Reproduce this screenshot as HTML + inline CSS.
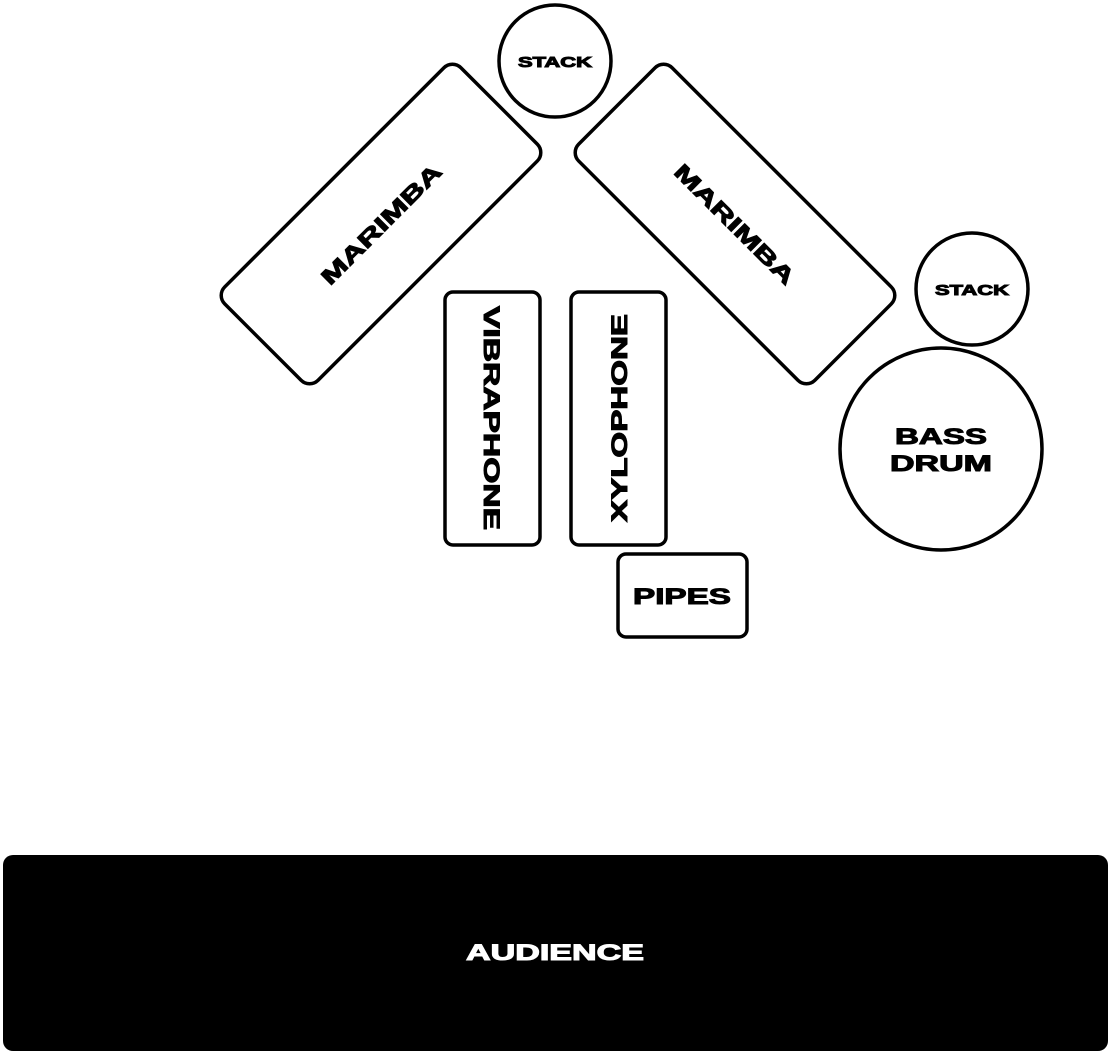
<!DOCTYPE html>
<html><head><meta charset="utf-8"><style>
html,body{margin:0;padding:0;background:#fff;}
svg{display:block;}
text{font-family:"Liberation Sans",sans-serif;font-weight:900;}
</style></head><body>
<svg width="1111" height="1055" viewBox="0 0 1111 1055" xmlns="http://www.w3.org/2000/svg">
<g fill="none" stroke="#000" stroke-width="3.5">
<circle cx="555" cy="61" r="56"/>
<circle cx="972" cy="289" r="56"/>
<circle cx="941" cy="449" r="101"/>
<rect x="-167" y="-66" width="334" height="132" rx="12" transform="translate(381,224) rotate(-45)"/>
<rect x="-167" y="-66" width="334" height="132" rx="12" transform="translate(735,224) rotate(45)"/>
<rect x="445" y="292" width="95" height="253" rx="8"/>
<rect x="571" y="292" width="95" height="253" rx="8"/>
<rect x="618" y="554" width="129" height="83" rx="8"/>
</g>
<rect x="3" y="855" width="1105" height="196" rx="10" fill="#000"/>
<g fill="#000" stroke="#000" stroke-width="1" text-anchor="middle">
<text x="555" y="67" font-size="15" textLength="74" lengthAdjust="spacingAndGlyphs">STACK</text>
<text x="972" y="295" font-size="15" textLength="74" lengthAdjust="spacingAndGlyphs">STACK</text>
<text x="941" y="444" font-size="22" textLength="92" lengthAdjust="spacingAndGlyphs">BASS</text>
<text x="941" y="471" font-size="22" textLength="102" lengthAdjust="spacingAndGlyphs">DRUM</text>
<text x="682" y="604" font-size="22" textLength="98" lengthAdjust="spacingAndGlyphs">PIPES</text>
<text transform="translate(381,224) rotate(-45)" x="0" y="8" font-size="22" textLength="160" lengthAdjust="spacingAndGlyphs">MARIMBA</text>
<text transform="translate(735,224) rotate(45)" x="0" y="8" font-size="22" textLength="160" lengthAdjust="spacingAndGlyphs">MARIMBA</text>
<text transform="translate(492,418) rotate(90)" x="0" y="8" font-size="22" textLength="224" lengthAdjust="spacingAndGlyphs">VIBRAPHONE</text>
<text transform="translate(619,418) rotate(-90)" x="0" y="8" font-size="22" textLength="208" lengthAdjust="spacingAndGlyphs">XYLOPHONE</text>
<text x="555" y="960" font-size="22" fill="#fff" stroke="#fff" textLength="178" lengthAdjust="spacingAndGlyphs">AUDIENCE</text>
</g>
</svg>
</body></html>
